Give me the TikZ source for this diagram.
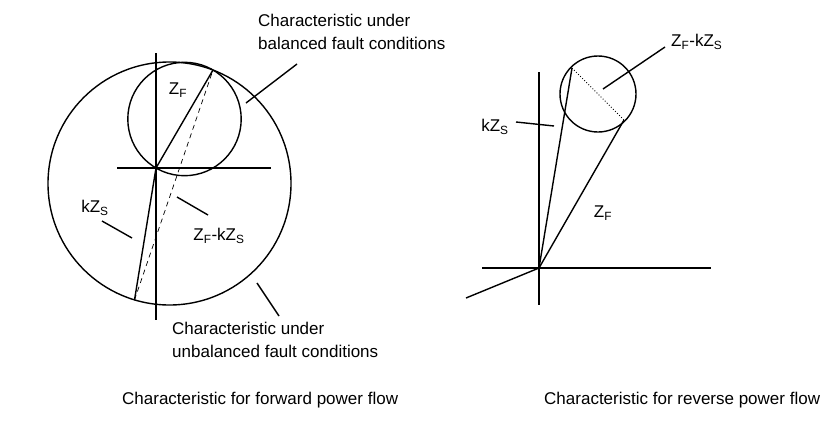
\documentclass[tikz,border=0pt]{standalone}
\usepackage{fontspec}
\setmainfont{Liberation Sans}
\usetikzlibrary{positioning,calc}
\tikzset{
  lbl/.style={inner sep=0pt, align=left, font=\fontsize{17}{23}\selectfont},
  ax/.style={line width=1.4pt},
  ray/.style={line width=1.4pt},
  lead/.style={line width=1.4pt}
}
\newcommand{\Zf}{Z\textsubscript{F}}
\newcommand{\kZs}{kZ\textsubscript{S}}

\begin{document}
\begin{tikzpicture}[x=1pt, y=-1pt]
\useasboundingbox (0,0) rectangle (829,432);
% forward power flow
\coordinate (fo) at (156,168);
\coordinate (fyt) at (156,53);
\coordinate (fyb) at (156,320);
\coordinate (fxl) at (117,168);
\coordinate (fxr) at (271,168);
\coordinate (fzf) at (213,70);
\coordinate (fks) at (134.5,300);
\coordinate (fbig) at (169.5,183.5);
\coordinate (fsmall) at ($(fo)!0.5!(fzf)$);
\draw[ax] (fyt) -- (fyb);
\draw[ax] (fxl) -- (fxr);
\draw[ray] (fbig) circle[radius=121.5];
\draw[ray] (fsmall) circle[radius=56.7];
\draw[ray] (fo) -- (fzf);
\draw[ray] (fo) -- (fks);
\draw[line width=0.7pt, dash pattern=on 5pt off 4pt] (fks) -- (fzf);
\node[lbl] (fzflbl) at (178,90) {\Zf};
\node[lbl] (fkslbl) at (95,208) {\kZs};
\node[lbl] (fdiff) at (219,236) {\Zf-\kZs};
\coordinate (fks1) at (102,221);
\coordinate (fks2) at (132,238);
\draw[lead] (fks1) -- (fks2);
\coordinate (fdiff1) at (177,197);
\coordinate (fdiff2) at (208,215);
\draw[lead] (fdiff1) -- (fdiff2);
\node[lbl, anchor=north west] (bal) at (258,14) {Characteristic under\\balanced fault conditions};
\coordinate (bal1) at (297,64);
\coordinate (bal2) at (246,103);
\draw[lead] (bal1) -- (bal2);
\node[lbl, anchor=north west] (unbal) at (172,322) {Characteristic under\\unbalanced fault conditions};
\coordinate (unbal1) at (257,283);
\coordinate (unbal2) at (279,316);
\draw[lead] (unbal1) -- (unbal2);
\node[lbl, anchor=base west] (fcap) at (122,404) {Characteristic for forward power flow};
% reverse power flow
\coordinate (ro) at (539,268);
\coordinate (ryt) at (539,72);
\coordinate (ryb) at (539,305);
\coordinate (rxl) at (482,268);
\coordinate (rxr) at (711,268);
\coordinate (rneg) at (466,298);
\coordinate (rks) at (572,68);
\coordinate (rzf) at (624,120);
\coordinate (rc) at ($(rks)!0.5!(rzf)$);
\draw[ax] (ryt) -- (ryb);
\draw[ax] (rxl) -- (rxr);
\draw[ray] (ro) -- (rneg);
\draw[ray] (rc) circle[radius=38];
\draw[ray] (ro) -- (rks);
\draw[ray] (ro) -- (rzf);
\draw[line width=0.9pt, dotted] (rks) -- (rzf);
\node[lbl] (rkslbl) at (495,127) {\kZs};
\coordinate (rks1) at (516,122);
\coordinate (rks2) at (554,126);
\draw[lead] (rks1) -- (rks2);
\node[lbl] (rzflbl) at (603,213) {\Zf};
\node[lbl, anchor=west] (rdiff) at (671,42) {\Zf-\kZs};
\coordinate (rdiff1) at (665,47);
\coordinate (rdiff2) at (603,89);
\draw[lead] (rdiff1) -- (rdiff2);
\node[lbl, anchor=base west] (rcap) at (544,404) {Characteristic for reverse power flow};
\end{tikzpicture}
\end{document}
